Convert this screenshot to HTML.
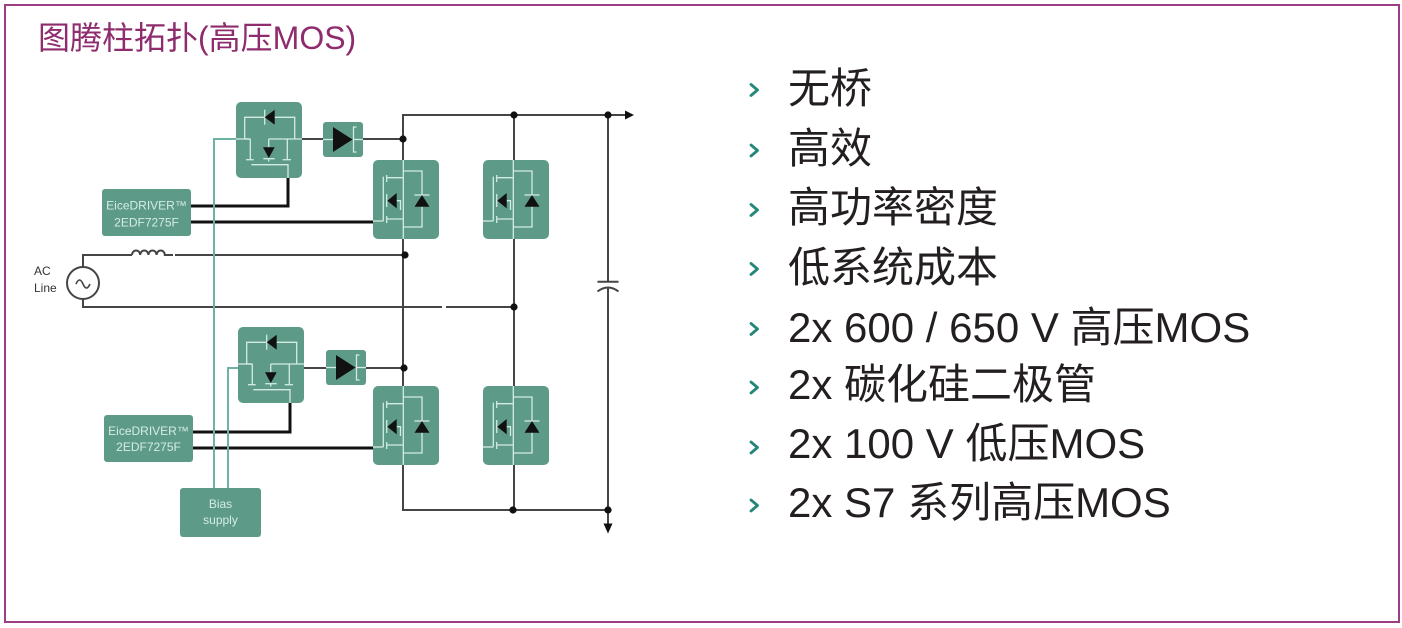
<!DOCTYPE html>
<html><head><meta charset="utf-8">
<style>
html,body{margin:0;padding:0;background:#fff;}
body{width:1402px;height:628px;position:relative;overflow:hidden;font-family:"Liberation Sans","Noto Sans CJK SC",sans-serif;}
.frame{position:absolute;left:4px;top:4px;width:1392px;height:615px;border:2px solid #9c3d85;}
.title{position:absolute;left:38px;top:22px;font-size:32px;line-height:32px;color:#8e2c6e;white-space:nowrap;}
.row{position:absolute;left:788px;font-size:42px;line-height:42px;color:#231f20;white-space:nowrap;}
svg{position:absolute;left:0;top:0;}
</style></head><body>
<div class="frame"></div>
<div class="title">图腾柱拓扑(高压MOS)</div>

<svg width="1402" height="628" viewBox="0 0 1402 628" xmlns="http://www.w3.org/2000/svg">
<defs>
  <g id="bigfet">
    <rect x="0" y="0" width="66" height="79" rx="5" fill="#5d9b88"/>
    <g stroke="#d3ebe2" stroke-width="1.3" fill="none">
      <line x1="30.3" y1="0" x2="30.3" y2="79"/>
      <polyline points="30.3,11 49,11 49,67 30.3,67"/>
      <line x1="41.5" y1="35" x2="56.5" y2="35"/>
      <line x1="13.7" y1="17.7" x2="30.3" y2="17.7"/>
      <line x1="13.7" y1="59" x2="30.3" y2="59"/>
      <line x1="13.7" y1="15" x2="13.7" y2="22"/>
      <line x1="13.7" y1="34" x2="13.7" y2="47"/>
      <line x1="13.7" y1="56" x2="13.7" y2="63"/>
      <line x1="10.3" y1="16.7" x2="10.3" y2="61"/>
      <line x1="0" y1="61" x2="10.3" y2="61"/>
      <polyline points="23.7,40.7 27.5,40.7 27.5,50"/>
    </g>
    <polygon points="14.3,40.7 23.7,33 23.7,48.4" fill="#111"/>
    <polygon points="49,35 41.5,46.7 56.5,46.7" fill="#111"/>
  </g>
  <g id="smallfet">
    <rect x="0" y="0" width="66" height="76" rx="5" fill="#5d9b88"/>
    <g stroke="#d3ebe2" stroke-width="1.3" fill="none">
      <polyline points="8.7,37 8.7,15.3 58.7,15.3 58.7,37"/>
      <line x1="28.7" y1="7.7" x2="28.7" y2="22.7"/>
      <line x1="0" y1="37" x2="14.3" y2="37"/>
      <line x1="8.7" y1="37" x2="14.3" y2="37"/>
      <line x1="32.7" y1="37" x2="66" y2="37"/>
      <line x1="14.3" y1="37" x2="14.3" y2="57.7"/>
      <line x1="10" y1="57.7" x2="17.7" y2="57.7"/>
      <line x1="51.3" y1="37" x2="51.3" y2="57.7"/>
      <line x1="46.7" y1="57.7" x2="55" y2="57.7"/>
      <line x1="32.7" y1="37" x2="32.7" y2="45.3"/>
      <line x1="27.3" y1="56.7" x2="38.7" y2="56.7"/>
      <line x1="32.7" y1="56.7" x2="32.7" y2="59.5"/>
      <polyline points="15.3,62.7 52,62.7 52,76"/>
    </g>
    <polygon points="28.7,15.3 38.7,7.7 38.7,22.7" fill="#111"/>
    <polygon points="27,45.3 38.7,45.3 32.8,56" fill="#111"/>
  </g>
  <g id="diodebox">
    <rect x="0" y="0" width="40" height="35" rx="3" fill="#5d9b88"/>
    <g stroke="#d3ebe2" stroke-width="1.3" fill="none">
      <line x1="0" y1="17.5" x2="10" y2="17.5"/>
      <line x1="31" y1="17.5" x2="40" y2="17.5"/>
      <polyline points="33.5,5 30.5,5 30.5,30 33.5,30"/>
    </g>
    <polygon points="10,5 29.5,17.5 10,30" fill="#111"/>
  </g>
</defs>

<!-- dark wires -->
<g stroke="#454545" stroke-width="2" fill="none">
  <!-- top rail -->
  <polyline points="403,160 403,115 626,115"/>
  <line x1="514" y1="115" x2="514" y2="160"/>
  <line x1="608" y1="115" x2="608" y2="281.7"/>
  <line x1="608" y1="287" x2="608" y2="524"/>
  <!-- legs -->
  <line x1="403" y1="239" x2="403" y2="386"/>
  <line x1="514" y1="239" x2="514" y2="386"/>
  <polyline points="403,465 403,510 608,510"/>
  <line x1="514" y1="465" x2="514" y2="510"/>
  <!-- diode lines -->
  <line x1="302" y1="139" x2="323" y2="139"/>
  <line x1="363" y1="139" x2="403" y2="139"/>
  <line x1="304" y1="368" x2="326" y2="368"/>
  <line x1="365" y1="368" x2="404" y2="368"/>
  <!-- capacitor -->
  <line x1="597.5" y1="281.7" x2="618.5" y2="281.7"/>
  <path d="M597.5,291.5 Q608,283.5 618.5,291.5"/>
  <!-- AC line -->
  <polyline points="83,267 83,255 132,255"/>
  <path d="M132,255 a4.1,4.5 0 0 1 8.2,0 a4.1,4.5 0 0 1 8.2,0 a4.1,4.5 0 0 1 8.2,0 a4.1,4.5 0 0 1 8.2,0 L173,255"/>
  <line x1="175" y1="255" x2="405" y2="255"/>
  <circle cx="83" cy="283" r="16"/>
  <path d="M76,284 q3.5,-8 7,0 t7,0" stroke-width="1.6"/>
  <polyline points="83,299 83,307 442,307"/>
  <line x1="446" y1="307" x2="514" y2="307"/>
</g>

<!-- thick driver lines -->
<g stroke="#111" stroke-width="3" fill="none">
  <polyline points="288,177 288,206 191,206"/>
  <line x1="191" y1="222" x2="374" y2="222"/>
  <polyline points="290,403 290,432 193,432"/>
  <line x1="193" y1="448" x2="374" y2="448"/>
</g>

<!-- teal bias wires -->
<g stroke="#6db2a4" stroke-width="2" fill="none">
  <polyline points="236,139 214,139 214,488"/>
  <polyline points="238,368 228,368 228,488"/>
</g>

<!-- arrows -->
<polygon points="625,110.5 634,115 625,119.5" fill="#111"/>
<polygon points="603.5,523.5 612.5,523.5 608,533.5" fill="#111"/>

<!-- components -->
<use href="#smallfet" x="236" y="102"/>
<use href="#smallfet" x="238" y="327"/>
<use href="#diodebox" x="323" y="122"/>
<use href="#diodebox" x="326" y="350"/>
<use href="#bigfet" x="373" y="160"/>
<use href="#bigfet" x="483" y="160"/>
<use href="#bigfet" x="373" y="386"/>
<use href="#bigfet" x="483" y="386"/>

<!-- drivers & bias -->
<rect x="102" y="189" width="89" height="47" rx="3" fill="#5d9b88"/>
<rect x="104" y="415" width="89" height="47" rx="3" fill="#5d9b88"/>
<rect x="180" y="488" width="81" height="49" rx="3" fill="#5d9b88"/>
<g font-family="Liberation Sans, sans-serif" font-size="12" fill="#d6ece4" text-anchor="middle">
  <text x="146.5" y="209.5">EiceDRIVER™</text>
  <text x="146.5" y="226.5">2EDF7275F</text>
  <text x="148.5" y="435">EiceDRIVER™</text>
  <text x="148.5" y="451">2EDF7275F</text>
  <text x="220.5" y="508">Bias</text>
  <text x="220.5" y="524">supply</text>
</g>
<g font-family="Liberation Sans, sans-serif" font-size="12" fill="#333">
  <text x="34" y="275">AC</text>
  <text x="34" y="292">Line</text>
</g>

<!-- nodes -->
<g fill="#111">
  <circle cx="403" cy="139" r="3.6"/>
  <circle cx="514" cy="115" r="3.6"/>
  <circle cx="608" cy="115" r="3.6"/>
  <circle cx="405" cy="255" r="3.6"/>
  <circle cx="514" cy="307" r="3.6"/>
  <circle cx="404" cy="368" r="3.6"/>
  <circle cx="513" cy="510" r="3.6"/>
  <circle cx="608" cy="510" r="3.6"/>
</g>

<!-- bullet chevrons -->
<g stroke="#25877a" stroke-width="2.8" fill="none" stroke-linecap="round" stroke-linejoin="round">
  <polyline points="751,84.5 757.5,90 751,95.5"/>
  <polyline points="751,145 757.5,150.5 751,156"/>
  <polyline points="751,204.5 757.5,210 751,215.5"/>
  <polyline points="751,263.5 757.5,269 751,274.5"/>
  <polyline points="751,323.5 757.5,329 751,334.5"/>
  <polyline points="751,382 757.5,387.5 751,393"/>
  <polyline points="751,442 757.5,447.5 751,453"/>
  <polyline points="751,500 757.5,505.5 751,511"/>
</g>
</svg>

<div class="row" style="top:68px">无桥</div>
<div class="row" style="top:128px">高效</div>
<div class="row" style="top:187px">高功率密度</div>
<div class="row" style="top:247px">低系统成本</div>
<div class="row" style="top:307px">2x 600 / 650 V 高压MOS</div>
<div class="row" style="top:364px">2x 碳化硅二极管</div>
<div class="row" style="top:423px">2x 100 V 低压MOS</div>
<div class="row" style="top:482px">2x S7 系列高压MOS</div>
</body></html>
